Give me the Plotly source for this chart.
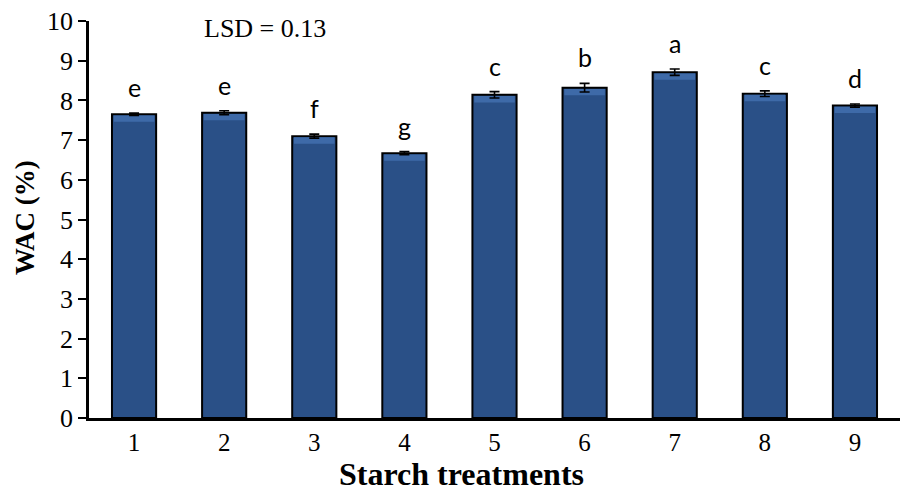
import plotly.graph_objects as go

# Water absorption capacity by starch treatment
treatments = ["1", "2", "3", "4", "5", "6", "7", "8", "9"]
wac_mean = [7.65, 7.69, 7.10, 6.67, 8.14, 8.32, 8.71, 8.17, 7.87]
wac_err = [0.03, 0.05, 0.05, 0.04, 0.08, 0.11, 0.08, 0.07, 0.04]
groups = ["e", "e", "f", "g", "c", "b", "a", "c", "d"]
y_ticks = [0, 1, 2, 3, 4, 5, 6, 7, 8, 9, 10]

SERIF = "Liberation Serif, Times New Roman, serif"
BAR_BLUE = "#2a5087"
BEVEL_BLUE = "#3e6aa8"

x_pos = list(range(1, len(treatments) + 1))

fig = go.Figure()
fig.add_trace(go.Bar(
    x=x_pos,
    y=wac_mean,
    width=0.49,
    marker=dict(color=BAR_BLUE, line=dict(color="black", width=2)),
    hoverinfo="x+y",
    showlegend=False,
))

# lighter bevel band just under each bar's top edge
bevel_h = 0.16
fig.add_trace(go.Bar(
    x=x_pos,
    y=[bevel_h] * len(x_pos),
    base=[m - bevel_h - 0.03 for m in wac_mean],
    width=0.45,
    marker=dict(color=BEVEL_BLUE, line=dict(width=0)),
    hoverinfo="skip",
    showlegend=False,
))

# standard-error whiskers
fig.add_trace(go.Scatter(
    x=x_pos, y=wac_mean, mode="markers",
    marker=dict(size=1, opacity=0),
    error_y=dict(type="data", array=wac_err, visible=True,
                 color="black", thickness=1.6, width=5),
    hoverinfo="skip",
    showlegend=False,
))

# significance letters above each bar
for xi, m, e, g in zip(x_pos, wac_mean, wac_err, groups):
    fig.add_annotation(
        x=xi, y=m + e, text=g, showarrow=False,
        yanchor="middle", yshift=26,
        font=dict(family="Lato, Open Sans, sans-serif", size=25, color="black"),
    )

fig.add_annotation(
    xref="paper", yref="paper", x=0.217, y=0.98, text="LSD = 0.13",
    showarrow=False, xanchor="center", yanchor="middle",
    font=dict(family=SERIF, size=26, color="black"),
)
fig.add_annotation(
    xref="paper", yref="paper", x=0.4587, y=-0.141, text="<b>Starch treatments</b>",
    showarrow=False, xanchor="center", yanchor="middle",
    font=dict(family=SERIF, size=32, color="black"),
)
fig.add_annotation(
    xref="paper", yref="paper", x=-0.079, y=0.506, text="<b>WAC (%)</b>",
    showarrow=False, xanchor="center", yanchor="middle", textangle=-90,
    font=dict(family=SERIF, size=27, color="black"),
)

fig.update_layout(
    width=903, height=492,
    margin=dict(l=89, r=3, t=21, b=74),
    paper_bgcolor="white", plot_bgcolor="white",
    barmode="overlay",
    font=dict(family=SERIF, size=26, color="black"),
)
fig.update_xaxes(
    range=[0.5, 9.5], tickmode="array", tickvals=x_pos, ticktext=treatments,
    showline=True, linecolor="black", linewidth=2.5,
    ticks="", showgrid=False, zeroline=False,
    tickfont=dict(family=SERIF, size=25, color="black"),
)
fig.update_yaxes(
    range=[0, 10], tickmode="array", tickvals=y_ticks,
    showline=True, linecolor="black", linewidth=2.5,
    ticks="outside", ticklen=8, tickwidth=2, tickcolor="black",
    showgrid=False, zeroline=False,
    tickfont=dict(family=SERIF, size=26, color="black"),
)

fig.write_html("out.html")
